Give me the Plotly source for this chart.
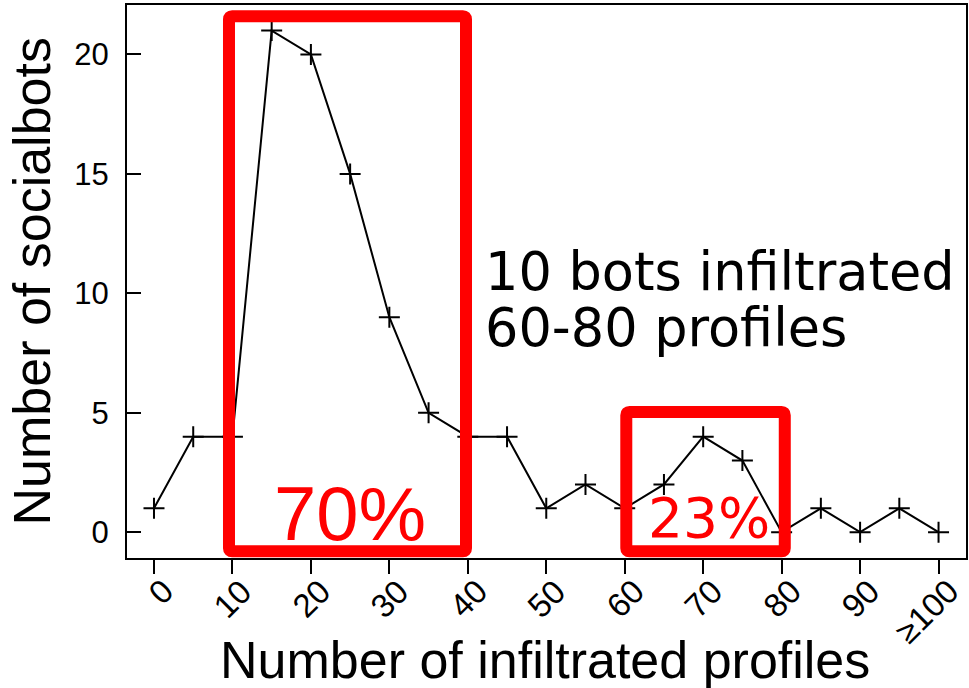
import plotly.graph_objects as go

# ---- data ----
profiles = [0, 5, 10, 15, 20, 25, 30, 35, 40, 45, 50, 55, 60, 65, 70, 75, 80, 85, 90, 95, 100]
socialbots = [1, 4, 4, 21, 20, 15, 9, 5, 4, 4, 1, 2, 1, 2, 4, 3, 0, 1, 0, 1, 0]
tick_vals = [0, 10, 20, 30, 40, 50, 60, 70, 80, 90, 100]
tick_text = ["0", "10", "20", "30", "40", "50", "60", "70", "80", "90", "≥100"]
y_ticks = [0, 5, 10, 15, 20]

label_big = "70%"
label_small = "23%"
note_line1 = "10 bots infiltrated"
note_line2 = "60-80 profiles"
x_title = "Number of infiltrated profiles"
y_title = "Number of socialbots"

SANS = "Liberation Sans, Arial, Helvetica, sans-serif"
VERD = "DejaVu Sans, Verdana, sans-serif"
RED = "#ff0000"

fig = go.Figure()
fig.add_trace(go.Scatter(
    x=profiles, y=socialbots, mode="lines+markers",
    line=dict(color="black", width=2),
    marker=dict(symbol="cross-thin", size=15, line=dict(color="black", width=2)),
    showlegend=False, hoverinfo="skip",
))


def rounded_rect(x0, y0, x1, y1, rx, ry):
    return (f"M {x0+rx},{y0} L {x1-rx},{y0} Q {x1},{y0} {x1},{y0+ry} "
            f"L {x1},{y1-ry} Q {x1},{y1} {x1-rx},{y1} L {x0+rx},{y1} "
            f"Q {x0},{y1} {x0},{y1-ry} L {x0},{y0+ry} Q {x0},{y0} {x0+rx},{y0} Z")


rx, ry = 0.4, 0.13
fig.add_shape(type="path", path=rounded_rect(9.56, -0.80, 39.77, 21.6, rx, ry),
              xref="x", yref="y", line=dict(color=RED, width=12), layer="above")
fig.add_shape(type="path", path=rounded_rect(60.2, -0.80, 80.4, 5.03, rx, ry),
              xref="x", yref="y", line=dict(color=RED, width=12), layer="above")

fig.add_annotation(x=25, y=0.8, text=label_big, showarrow=False, xanchor="center",
                   yanchor="middle", font=dict(family=SANS, size=76, color=RED))
fig.add_annotation(x=70.7, y=0.6, text=label_small, showarrow=False, xanchor="center",
                   yanchor="middle", font=dict(family=VERD, size=55, color=RED))
fig.add_annotation(x=41.9, y=10.9, text=note_line1, showarrow=False, xanchor="left",
                   yanchor="middle", font=dict(family=VERD, size=52.5, color="black"))
fig.add_annotation(x=41.9, y=8.55, text=note_line2, showarrow=False, xanchor="left",
                   yanchor="middle", font=dict(family=VERD, size=52.5, color="black"))

# rotated x tick labels (end of each label anchored just right of its tick)
for v, t in zip(tick_vals, tick_text):
    fig.add_annotation(x=v, y=0, xref="x", yref="paper", text=t, showarrow=False,
                       textangle=-45, xanchor="right", yanchor="top",
                       xshift=28, yshift=-13, borderpad=0,
                       font=dict(family=SANS, size=33, color="black"))

fig.add_annotation(x=0.498, y=-0.1844, xref="paper", yref="paper", text=x_title,
                   showarrow=False, xanchor="center", yanchor="middle",
                   font=dict(family=SANS, size=52, color="black"))
fig.add_annotation(x=(31 - 127) / 839, y=0.5, xref="paper", yref="paper", text=y_title,
                   showarrow=False, xanchor="center", yanchor="middle", textangle=-90,
                   font=dict(family=SANS, size=52, color="black"))

fig.update_layout(
    width=969, height=688,
    margin=dict(l=127, r=3, t=5, b=130, pad=0),
    plot_bgcolor="white", paper_bgcolor="white",
    font=dict(family=SANS, color="black"),
)
fig.update_xaxes(
    range=[-3.44, 103.5], tickmode="array", tickvals=tick_vals, ticktext=tick_text,
    showticklabels=False, ticks="outside", ticklen=14, tickwidth=2, tickcolor="black",
    showline=True, linecolor="black", linewidth=2, mirror=True,
    showgrid=False, zeroline=False, automargin=False,
)
fig.update_yaxes(
    range=[-1.08, 22.07], tickmode="array", tickvals=y_ticks,
    ticks="inside", ticklen=14, tickwidth=2, tickcolor="black",
    tickfont=dict(family=SANS, size=31, color="black"),
    showline=True, linecolor="black", linewidth=2, mirror=True,
    showgrid=False, zeroline=False, ticklabelstandoff=10, automargin=False,
)

fig.write_html("out.html", config={"displayModeBar": False},
               post_script="document.body.style.margin='0px';")
